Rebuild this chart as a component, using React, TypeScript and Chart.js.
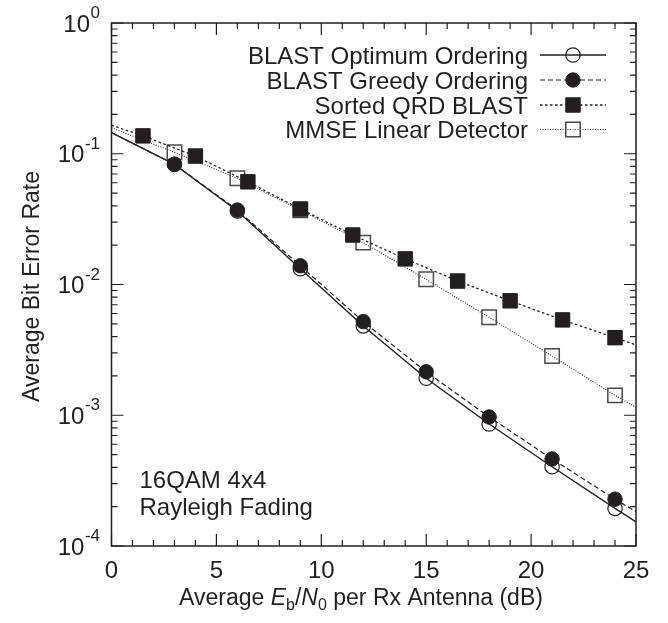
import React, { useEffect, useRef } from 'react';
import { Chart, registerables } from 'chart.js';

Chart.register(...registerables);

const FONT = '"Liberation Sans", Arial, Helvetica, sans-serif';
const INK = '#231f20';

// ---- data ----
const snrOptimum = [3, 6, 9, 12, 15, 18, 21, 24];
const berOptimum = [0.083, 0.0365, 0.0132, 0.00482, 0.00192, 0.000857, 0.000404, 0.000194];
const snrGreedy = [3, 6, 9, 12, 15, 18, 21, 24];
const berGreedy = [0.083, 0.0371, 0.0139, 0.0052, 0.00215, 0.00097, 0.000463, 0.000228];
const snrSortedQRD = [1.5, 4, 6.5, 9, 11.5, 14, 16.5, 19, 21.5, 24];
const berSortedQRD = [0.137, 0.096, 0.061, 0.0378, 0.0239, 0.0157, 0.01063, 0.0075, 0.00536, 0.00392];
const snrMMSE = [3, 6, 9, 12, 15, 18, 21, 24];
const berMMSE = [0.1026, 0.0649, 0.037, 0.0209, 0.01096, 0.00561, 0.00284, 0.00142];

// fitted-curve values where the curves meet the plot edges
const curveEdgeX = [0, 25];
const edgeOptimum = [0.145, 0.000153];
const edgeGreedy = [0.145, 0.000183];
const edgeSortedQRD = [0.165, 0.00345];
const edgeMMSE = [0.158, 0.00115];

const seriesLabels = [
  'BLAST Optimum Ordering',
  'BLAST Greedy Ordering',
  'Sorted QRD BLAST',
  'MMSE Linear Detector',
];
const xTickValues = [0, 5, 10, 15, 20, 25];
const yTickExponents = [0, -1, -2, -3, -4];
const annotationLines = ['16QAM 4x4', 'Rayleigh Fading'];

function buildPoints(xs: number[], ys: number[], edges: number[]) {
  return [
    { x: curveEdgeX[0], y: edges[0] },
    ...xs.map((x, i) => ({ x, y: ys[i] })),
    { x: curveEdgeX[1], y: edges[1] },
  ];
}

type Style = {
  pointStyle: string;
  radius: number;
  fill: string;
  stroke: string;
  markerWidth: number;
  dash: number[];
  lineWidth: number;
  lineColor: string;
};

const styles: Style[] = [
  { pointStyle: 'circle', radius: 7.2, fill: 'rgba(0,0,0,0)', stroke: INK, markerWidth: 1.2, dash: [], lineWidth: 1.4, lineColor: INK },
  { pointStyle: 'circle', radius: 7.2, fill: INK, stroke: INK, markerWidth: 1, dash: [5, 3], lineWidth: 1.2, lineColor: INK },
  { pointStyle: 'rect', radius: 10.2, fill: INK, stroke: INK, markerWidth: 1, dash: [2.5, 2.5], lineWidth: 1.3, lineColor: INK },
  { pointStyle: 'rect', radius: 10.2, fill: 'rgba(0,0,0,0)', stroke: '#4a4a4a', markerWidth: 1.5, dash: [1, 1.5], lineWidth: 1.1, lineColor: '#333' },
];

function drawMarker(ctx: CanvasRenderingContext2D, s: Style, x: number, y: number) {
  ctx.save();
  ctx.setLineDash([]);
  ctx.fillStyle = s.fill;
  ctx.strokeStyle = s.stroke;
  ctx.lineWidth = s.markerWidth;
  ctx.beginPath();
  if (s.pointStyle === 'circle') {
    ctx.arc(x, y, s.radius, 0, Math.PI * 2);
  } else {
    const h = s.radius * Math.SQRT1_2;
    ctx.rect(x - h, y - h, 2 * h, 2 * h);
  }
  ctx.fill();
  ctx.stroke();
  ctx.restore();
}

const decorPlugin = {
  id: 'decor',
  afterDatasetsDraw(chart: any) {
    const ctx: CanvasRenderingContext2D = chart.ctx;
    const { left, right, top, bottom } = chart.chartArea;
    const xs = chart.scales.x;
    const ys = chart.scales.y;
    ctx.save();
    ctx.strokeStyle = INK;
    ctx.fillStyle = INK;
    ctx.setLineDash([]);

    // frame
    ctx.lineWidth = 1.5;
    ctx.strokeRect(left, top, right - left, bottom - top);

    // x ticks (inward, top and bottom)
    ctx.lineWidth = 1.2;
    ctx.beginPath();
    for (let v = 0; v <= 25; v++) {
      const px = xs.getPixelForValue(v);
      const len = v % 5 === 0 ? 12 : 6;
      ctx.moveTo(px, bottom);
      ctx.lineTo(px, bottom - len);
      ctx.moveTo(px, top);
      ctx.lineTo(px, top + len);
    }
    // y ticks (inward, left and right)
    for (let d = -4; d <= 0; d++) {
      for (let m = 1; m <= 9; m++) {
        if (d === 0 && m > 1) break;
        const py = ys.getPixelForValue(m * Math.pow(10, d));
        const len = m === 1 ? 12 : 6;
        ctx.moveTo(left, py);
        ctx.lineTo(left + len, py);
        ctx.moveTo(right, py);
        ctx.lineTo(right - len, py);
      }
    }
    ctx.stroke();

    // x tick labels
    ctx.font = `24px ${FONT}`;
    ctx.textAlign = 'center';
    ctx.textBaseline = 'alphabetic';
    xTickValues.forEach((v) => {
      ctx.fillText(String(v), xs.getPixelForValue(v), 578);
    });

    // y tick labels with superscript exponents
    yTickExponents.forEach((e) => {
      const py = ys.getPixelForValue(Math.pow(10, e));
      const expStr = String(e);
      ctx.font = `17px ${FONT}`;
      const ew = ctx.measureText(expStr).width;
      ctx.textAlign = 'right';
      ctx.fillText(expStr, 100, py - 5);
      ctx.font = `24px ${FONT}`;
      ctx.fillText('10', 100 - ew - 0.5, py + 8.5);
    });

    // x axis title: Average E_b/N_0 per Rx Antenna (dB)
    const parts: { t: string; font: string; dy: number }[] = [
      { t: 'Average ', font: `23px ${FONT}`, dy: 0 },
      { t: 'E', font: `italic 23px ${FONT}`, dy: 0 },
      { t: 'b', font: `16px ${FONT}`, dy: 5 },
      { t: '/', font: `23px ${FONT}`, dy: 0 },
      { t: 'N', font: `italic 23px ${FONT}`, dy: 0 },
      { t: '0', font: `16px ${FONT}`, dy: 5 },
      { t: ' per Rx Antenna (dB)', font: `23px ${FONT}`, dy: 0 },
    ];
    let total = 0;
    parts.forEach((p) => {
      ctx.font = p.font;
      total += ctx.measureText(p.t).width;
    });
    let cx = 361 - total / 2;
    ctx.textAlign = 'left';
    parts.forEach((p) => {
      ctx.font = p.font;
      ctx.fillText(p.t, cx, 605 + p.dy);
      cx += ctx.measureText(p.t).width;
    });

    // y axis title
    ctx.save();
    ctx.translate(39, (top + bottom) / 2 + 2);
    ctx.rotate(-Math.PI / 2);
    ctx.font = `23px ${FONT}`;
    ctx.textAlign = 'center';
    ctx.fillText('Average Bit Error Rate', 0, 0);
    ctx.restore();

    // annotation
    ctx.font = `24px ${FONT}`;
    ctx.textAlign = 'left';
    ctx.fillText(annotationLines[0], 139.5, 488);
    ctx.fillText(annotationLines[1], 139.5, 515);

    // legend
    const rowY = [55, 80, 105, 129.5];
    chart.data.datasets.forEach((ds: any, i: number) => {
      const s = styles[i];
      const y = rowY[i];
      ctx.font = `24px ${FONT}`;
      ctx.textAlign = 'right';
      ctx.fillStyle = INK;
      ctx.fillText(ds.label, 528, y + 8.5);
      ctx.save();
      ctx.strokeStyle = s.lineColor;
      ctx.lineWidth = s.lineWidth;
      ctx.setLineDash(s.dash);
      ctx.beginPath();
      ctx.moveTo(540, y);
      ctx.lineTo(606, y);
      ctx.stroke();
      ctx.restore();
      drawMarker(ctx, s, 573, y);
    });

    ctx.restore();
  },
};

export default function App() {
  const ref = useRef<HTMLCanvasElement>(null);

  useEffect(() => {
    if (!ref.current) return;
    const series = [
      buildPoints(snrOptimum, berOptimum, edgeOptimum),
      buildPoints(snrGreedy, berGreedy, edgeGreedy),
      buildPoints(snrSortedQRD, berSortedQRD, edgeSortedQRD),
      buildPoints(snrMMSE, berMMSE, edgeMMSE),
    ];
    const drawOrder = [2, 1, 3, 4];
    const datasets = series.map((pts, i) => {
      const s = styles[i];
      const n = pts.length;
      const r = (c: any) => (c.dataIndex === 0 || c.dataIndex === n - 1 ? 0 : s.radius);
      return {
        label: seriesLabels[i],
        data: pts,
        order: drawOrder[i],
        borderColor: s.lineColor,
        borderWidth: s.lineWidth,
        borderDash: s.dash,
        tension: 0,
        fill: false,
        pointStyle: s.pointStyle,
        pointRadius: r,
        pointHoverRadius: r,
        pointBackgroundColor: s.fill,
        pointBorderColor: s.stroke,
        pointBorderWidth: s.markerWidth,
      };
    });

    const chart = new Chart(ref.current, {
      type: 'line',
      data: { datasets: datasets as any },
      options: {
        animation: false,
        responsive: false,
        events: [],
        layout: { padding: { left: 111.5, top: 23, right: 32, bottom: 77 } },
        scales: {
          x: { type: 'linear', min: 0, max: 25, display: false },
          y: { type: 'logarithmic', min: 1e-4, max: 1, display: false },
        },
        plugins: {
          legend: { display: false },
          tooltip: { enabled: false },
        },
      },
      plugins: [decorPlugin],
    });
    return () => chart.destroy();
  }, []);

  return (
    <div style={{ position: 'fixed', left: 0, top: 0, width: 668, height: 623, background: '#fff' }}>
      <canvas ref={ref} width={668} height={623} style={{ display: 'block', width: 668, height: 623 }} />
    </div>
  );
}
